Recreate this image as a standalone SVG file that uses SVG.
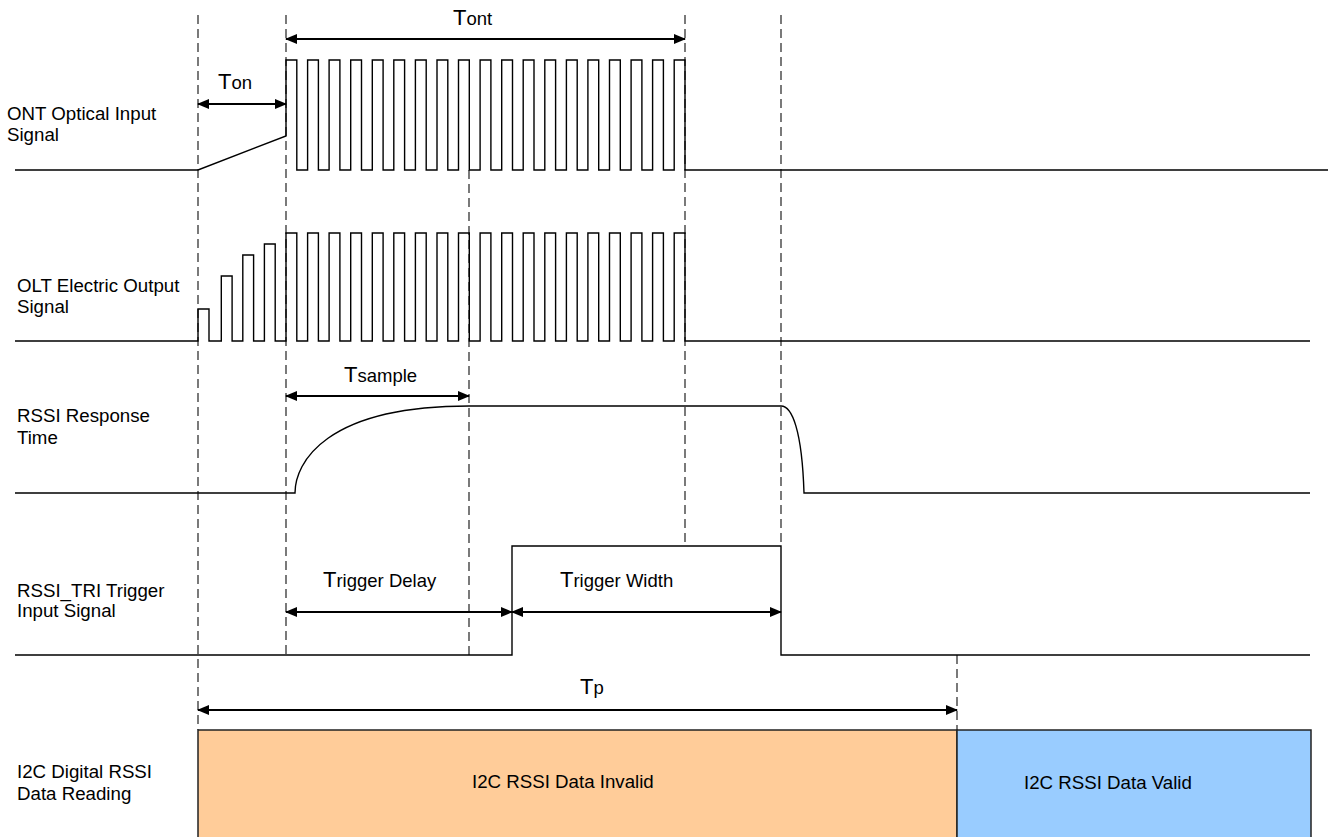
<svg xmlns="http://www.w3.org/2000/svg" width="1328" height="837" viewBox="0 0 1328 837">
<style>
.sig{fill:none;stroke:#000;stroke-width:1.4;stroke-linejoin:miter}
.dash{fill:none;stroke:#222;stroke-width:1.2;stroke-dasharray:9,5}
.dim{fill:none;stroke:#000;stroke-width:2;marker-start:url(#ah);marker-end:url(#ah)}
.lbl{font-family:"Liberation Sans",Arial,sans-serif;font-size:18.7px;fill:#000}
.big{font-size:22px}
.sub{font-size:18.5px}
</style>
<defs>
<marker id="ah" markerUnits="userSpaceOnUse" markerWidth="12" markerHeight="10" refX="11" refY="5" orient="auto-start-reverse">
<path d="M0,0 L12,5 L0,10 z" fill="#000"/>
</marker>
</defs>
<rect width="1328" height="837" fill="#fff"/>

<g id="guides">
<line class="dash" x1="198" y1="15" x2="198" y2="730"/>
<line class="dash" x1="286" y1="15" x2="286" y2="655"/>
<line class="dash" x1="469" y1="170" x2="469" y2="655"/>
<line class="dash" x1="685" y1="15" x2="685" y2="546"/>
<line class="dash" x1="781" y1="15" x2="781" y2="546"/>
<line class="dash" x1="957" y1="655" x2="957" y2="730"/>
</g>

<g id="ont-signal">
<text class="lbl" x="7" y="120">ONT Optical Input</text>
<text class="lbl" x="7" y="141">Signal</text>
<path class="sig" d="M15,170 H198 L286,136 V60 H296.8 V170 H307.6 V60 H318.4 V170 H329.1 V60 H339.9 V170 H350.7 V60 H361.5 V170 H372.3 V60 H383.1 V170 H393.8 V60 H404.6 V170 H415.4 V60 H426.2 V170 H437 V60 H447.8 V170 H458.5 V60 H469.3 V170 H480.1 V60 H490.9 V170 H501.7 V60 H512.5 V170 H523.2 V60 H534 V170 H544.8 V60 H555.6 V170 H566.4 V60 H577.2 V170 H587.9 V60 H598.7 V170 H609.5 V60 H620.3 V170 H631.1 V60 H641.9 V170 H652.6 V60 H663.4 V170 H674.2 V60 H685 V170 H1328"/>
</g>

<g id="olt-signal">
<text class="lbl" x="17" y="292">OLT Electric Output</text>
<text class="lbl" x="17" y="313">Signal</text>
<path class="sig" d="M15,341 H198 V309 H209 V341 H221.3 V276 H232.1 V341 H242.8 V255 H253.6 V341 H264.4 V244 H275.2 V341 H286 V233 H296.8 V341 H307.6 V233 H318.4 V341 H329.1 V233 H339.9 V341 H350.7 V233 H361.5 V341 H372.3 V233 H383.1 V341 H393.8 V233 H404.6 V341 H415.4 V233 H426.2 V341 H437 V233 H447.8 V341 H458.5 V233 H469.3 V341 H480.1 V233 H490.9 V341 H501.7 V233 H512.5 V341 H523.2 V233 H534 V341 H544.8 V233 H555.6 V341 H566.4 V233 H577.2 V341 H587.9 V233 H598.7 V341 H609.5 V233 H620.3 V341 H631.1 V233 H641.9 V341 H652.6 V233 H663.4 V341 H674.2 V233 H685 V341 H1310"/>
</g>

<g id="rssi-response">
<text class="lbl" x="17" y="422">RSSI Response</text>
<text class="lbl" x="17" y="444">Time</text>
<path class="sig" d="M15,493 H295 C295,463 325,406 469,406 H781 C792,406 802,430 804,493 H1310"/>
</g>

<g id="rssi-trigger">
<text class="lbl" x="17" y="597">RSSI_TRI Trigger</text>
<text class="lbl" x="17" y="617">Input Signal</text>
<path class="sig" d="M15,655 H512 V546 H781 V655 H1310"/>
</g>

<g id="i2c-reading">
<text class="lbl" x="17" y="778">I2C Digital RSSI</text>
<text class="lbl" x="17" y="800">Data Reading</text>
<rect id="invalid" x="198" y="730" width="759" height="112" fill="#FFCC99" stroke="#222" stroke-width="1.5"/>
<rect id="valid" x="957" y="730" width="354" height="112" fill="#99CCFF" stroke="#222" stroke-width="1.5"/>
<text class="lbl" x="472" y="788">I2C RSSI Data Invalid</text>
<text class="lbl" x="1024" y="789">I2C RSSI Data Valid</text>
</g>

<g id="connectors">
<line class="dim" x1="198" y1="104" x2="286" y2="104"/>
<line class="dim" x1="286" y1="39" x2="685" y2="39"/>
<line class="dim" x1="286" y1="396" x2="469" y2="396"/>
<line class="dim" x1="286" y1="612" x2="512" y2="612"/>
<line class="dim" x1="512" y1="612" x2="781" y2="612"/>
<line class="dim" x1="198" y1="710" x2="957" y2="710"/>
</g>

<g id="dimension-labels">
<text class="lbl" x="453" y="25"><tspan class="big">T</tspan><tspan class="sub">ont</tspan></text>
<text class="lbl" x="218" y="89"><tspan class="big">T</tspan><tspan class="sub">on</tspan></text>
<text class="lbl" x="344" y="382"><tspan class="big">T</tspan><tspan class="sub">sample</tspan></text>
<text class="lbl" x="323" y="587"><tspan class="big">T</tspan><tspan class="sub">rigger Delay</tspan></text>
<text class="lbl" x="560" y="587"><tspan class="big">T</tspan><tspan class="sub">rigger Width</tspan></text>
<text class="lbl" x="580" y="694"><tspan class="big">T</tspan><tspan class="sub">p</tspan></text>
</g>
</svg>
